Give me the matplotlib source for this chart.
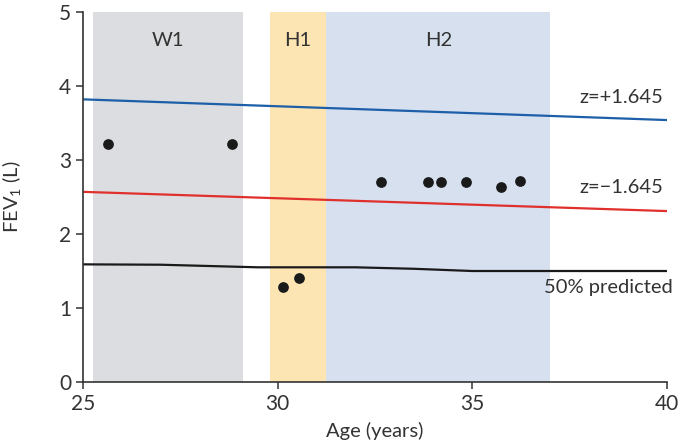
import matplotlib
matplotlib.use("Agg")
import matplotlib.pyplot as plt

plt.rcParams['font.family'] = ['Lato', 'DejaVu Sans']
plt.rcParams['mathtext.fontset'] = 'custom'
plt.rcParams['mathtext.rm'] = 'Lato'
plt.rcParams['mathtext.it'] = 'Lato:italic'

# shaded periods
periods = ['W1', 'H1', 'H2']
period_start = [25.25, 29.8, 31.25]
period_end = [29.1, 31.25, 37.0]
period_colors = ['#dcdde0', '#fce5b2', '#d6e0ef']

# measured FEV1
age = [25.63, 28.83, 30.13, 30.55, 32.65, 33.85, 34.19, 34.85, 35.73, 36.23]
fev1 = [3.21, 3.21, 1.28, 1.41, 2.70, 2.70, 2.70, 2.70, 2.64, 2.72]

# reference lines
ref_age = [25, 40]
upper_z = [3.82, 3.54]
lower_z = [2.57, 2.31]
pred_age = [25, 27, 29.5, 32, 33.5, 35, 40]
pred_50 = [1.59, 1.585, 1.55, 1.55, 1.53, 1.50, 1.50]

fs = 14.5
fig = plt.figure(figsize=(6.82, 4.46), dpi=100)
ax = fig.add_axes([0.1217, 0.1435, 0.978 - 0.1217, 0.973 - 0.1435])

for name, s, e, c in zip(periods, period_start, period_end, period_colors):
    ax.axvspan(s, e, ymin=0, ymax=1, color=c, lw=0, zorder=0)
    ax.text((s + e) / 2, 4.62, name, ha='center', va='center', fontsize=fs, color='#333333')

ax.plot(ref_age, upper_z, color='#1d5fa8', lw=1.6, zorder=2)
ax.plot(ref_age, lower_z, color='#e0302c', lw=1.6, zorder=2)
ax.plot(pred_age, pred_50, color='#1a1a1a', lw=1.6, zorder=2)
ax.scatter(age, fev1, s=45, color='#1a1a1a', zorder=3)

ax.text(39.9, 3.85, 'z=+1.645', ha='right', va='center', fontsize=fs, color='#333333')
ax.text(39.9, 2.63, 'z=\u22121.645', ha='right', va='center', fontsize=fs, color='#333333')
ax.text(40.15, 1.28, '50% predicted', ha='right', va='center', fontsize=fs, color='#333333')

ax.set_xlim(25, 40)
ax.set_ylim(0, 5)
ax.set_xticks([25, 30, 35, 40])
ax.set_yticks([0, 1, 2, 3, 4, 5])
ax.set_xlabel('Age (years)', fontsize=fs, color='#333333', labelpad=6)
ax.set_ylabel('FEV$_1$ (L)', fontsize=fs, color='#333333', labelpad=26)
ax.spines['top'].set_visible(False)
ax.spines['right'].set_visible(False)
for sp in ['left', 'bottom']:
    ax.spines[sp].set_color('#333333')
    ax.spines[sp].set_linewidth(1.2)
ax.tick_params(axis='both', labelsize=fs + 0.5, colors='#333333', length=5, width=1.1)

fig.savefig('out.png', dpi=100)
